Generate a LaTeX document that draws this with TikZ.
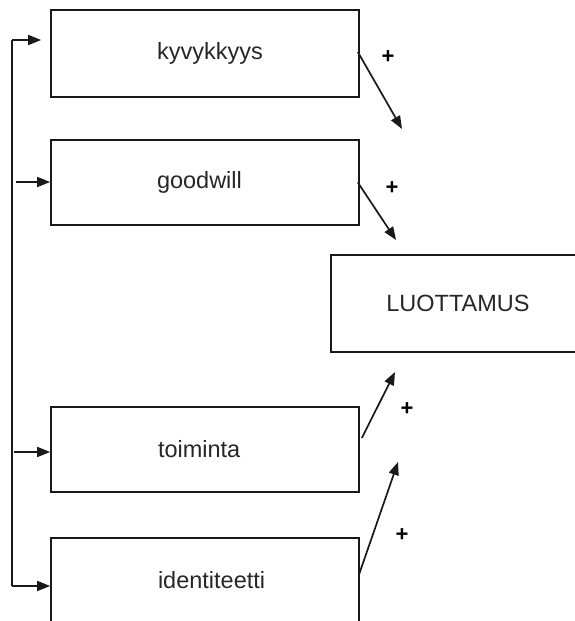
\documentclass[tikz,border=0pt]{standalone}
\usepackage{fontspec}
\setmainfont{Liberation Sans}
\usetikzlibrary{arrows.meta}
\begin{document}
\begin{tikzpicture}[x=1pt,y=-1pt,
  line/.style={draw=black!90,line width=1.7pt},
  arr/.style={line,-{Triangle[length=13pt,width=10pt]}},
  box/.style={draw=black!90,line width=1.7pt,inner sep=0pt,text width=308pt,align=left,font=\fontsize{23.5}{28}\selectfont,text=black!85},
  bigbox/.style={draw=black!90,line width=1.7pt,inner sep=0pt,minimum width=254pt,font=\fontsize{23.5}{28}\selectfont,text=black!85},
  plus/.style={inner sep=0pt,font=\fontsize{22}{26}\selectfont\bfseries}]
\useasboundingbox (0,0) rectangle (575,621);
\node[box,minimum height=87pt] (kyv) at (205,53.5) {\hspace*{106pt}kyvykkyys};
\node[box,minimum height=85pt] (good) at (205,182.5) {\hspace*{106pt}goodwill};
\node[box,minimum height=85pt] (toim) at (205,449.5) {\hspace*{107pt}toiminta};
\node[box,minimum height=84pt] (iden) at (205,580) {\hspace*{107pt}identiteetti};
\node[bigbox,minimum height=97pt] (luot) at (458,303.5) {LUOTTAMUS};
\coordinate (top) at (12,40);
\coordinate (bot) at (12,586);
\coordinate (g0) at (16,182);
\coordinate (t0) at (14,452);
\draw[line] (bot) -- (top);
\draw[arr,shorten >=9pt] (top) -- (kyv.west |- top);
\draw[arr] (g0) -- (good.west |- g0);
\draw[arr] (t0) -- (toim.west |- t0);
\draw[arr] (bot) -- (iden.west |- bot);
\coordinate (e1) at (402,129);
\coordinate (e2) at (396,240);
\coordinate (e3) at (395,372);
\coordinate (e4) at (398,462);
\draw[arr] ([shift={(-2,-1.5)}]kyv.east) -- (e1);
\draw[arr] ([shift={(-2,0)}]good.east) -- (e2);
\draw[arr] ([shift={(2,-11.5)}]toim.east) -- (e3);
\draw[arr] ([shift={(-1,-5)}]iden.east) -- (e4);
\node[plus] (p1) at (388,57) {+};
\node[plus] (p2) at (392,188) {+};
\node[plus] (p3) at (407,409) {+};
\node[plus] (p4) at (402,535) {+};
\end{tikzpicture}
\end{document}
